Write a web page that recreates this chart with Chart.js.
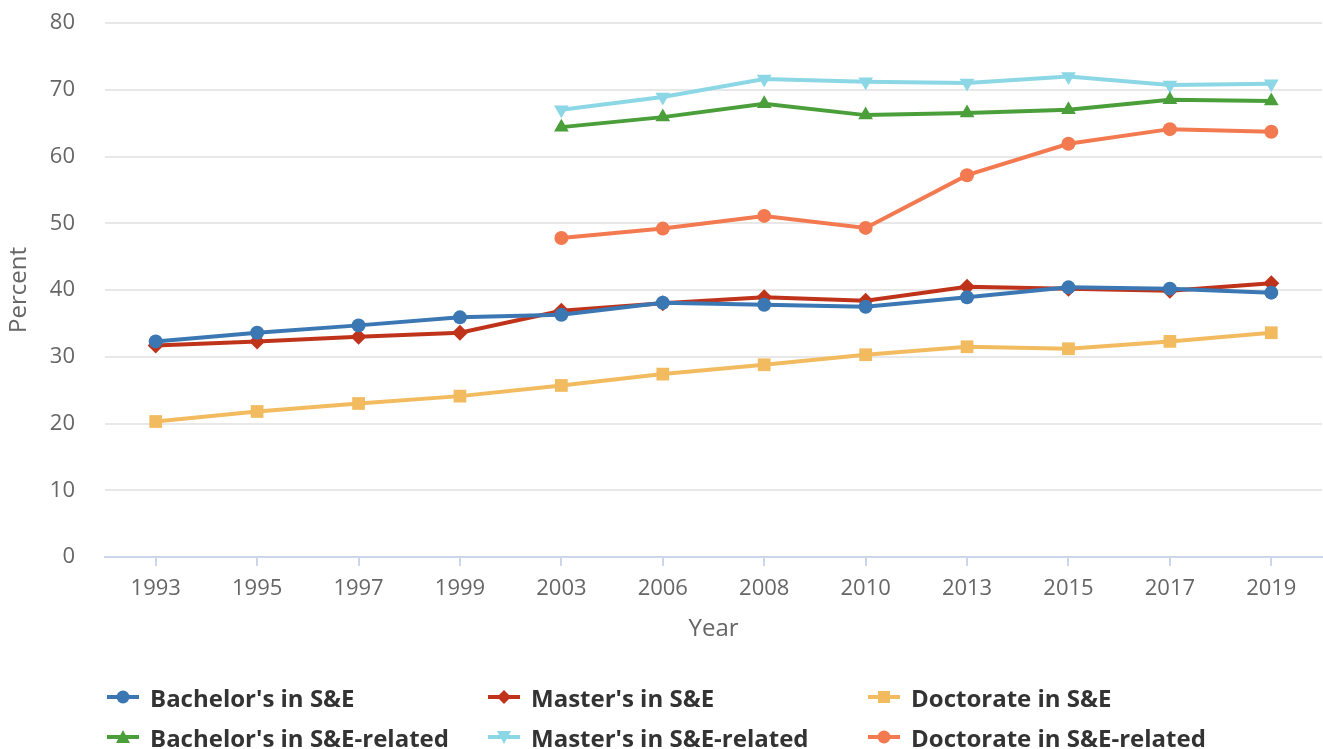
<!DOCTYPE html>
<html>
<head>
<meta charset="utf-8">
<script src="https://cdn.jsdelivr.net/npm/chart.js@4.4.1/dist/chart.umd.min.js"></script>
<style>
  html, body { margin: 0; padding: 0; background: #fff; }
  #wrap { position: relative; width: 1323px; height: 749px; overflow: hidden; }
  #box { position: absolute; left: 0; top: 0; width: 1331px; height: 665px; }
  #legend { position: absolute; left: 0; top: 0; width: 1323px; height: 749px; pointer-events: none; }
  .item { position: absolute; display: flex; align-items: center; height: 30px;
          font-family: "Open Sans", sans-serif; font-weight: 700; font-size: 24px; color: #333; white-space: nowrap; }
  .item svg { margin-right: 11px; }
</style>
</head>
<body>
<div id="wrap">
  <div id="box"><canvas id="chart"></canvas></div>
  <div id="legend"></div>
</div>
<script>
const years = ['1993', '1995', '1997', '1999', '2003', '2006', '2008', '2010', '2013', '2015', '2017', '2019'];

const bachelorSE = [32.3, 33.6, 34.7, 35.9, 36.3, 38.1, 37.8, 37.5, 38.9, 40.4, 40.2, 39.6];
const masterSE = [31.7, 32.3, 33.0, 33.6, 36.9, 38.0, 38.9, 38.4, 40.5, 40.2, 39.9, 41.0];
const doctorateSE = [20.3, 21.8, 23.0, 24.1, 25.7, 27.4, 28.8, 30.3, 31.5, 31.2, 32.3, 33.6];
const bachelorRel = [null, null, null, null, 64.4, 65.9, 67.9, 66.2, 66.5, 67.0, 68.5, 68.3];
const masterRel = [null, null, null, null, 67.0, 68.9, 71.6, 71.2, 71.0, 72.0, 70.7, 70.9];
const doctorateRel = [null, null, null, null, 47.8, 49.2, 51.1, 49.3, 57.2, 61.9, 64.1, 63.7];

const seriesNames = ["Bachelor's in S&E", "Master's in S&E", "Doctorate in S&E",
  "Bachelor's in S&E-related", "Master's in S&E-related", "Doctorate in S&E-related"];
const seriesColors = ['#3a77b3', '#c0331b', '#f2bb5f', '#4b9f3a', '#8cd7e5', '#f37a50'];
const seriesMarkers = ['circle', 'rectRot', 'rect', 'triangle', 'triangle', 'circle'];
const seriesData = [bachelorSE, masterSE, doctorateSE, bachelorRel, masterRel, doctorateRel];

const radius = { circle: 7, rectRot: 8, rect: 9, triangle: 8.5 };

const datasets = seriesNames.map((name, i) => ({
  label: name,
  data: seriesData[i],
  borderColor: seriesColors[i],
  backgroundColor: seriesColors[i],
  pointBackgroundColor: seriesColors[i],
  pointBorderWidth: 0,
  borderWidth: 4,
  pointStyle: seriesMarkers[i],
  pointRotation: i === 4 ? 180 : 0,
  pointRadius: radius[seriesMarkers[i]],
  tension: 0,
  spanGaps: false
}));

const tickFont = { family: 'Open Sans', size: 22 };
const titleFont = { family: 'Open Sans', size: 24 };

new Chart(document.getElementById('chart'), {
  type: 'line',
  data: { labels: years, datasets },
  options: {
    responsive: true,
    maintainAspectRatio: false,
    animation: false,
    events: [],
    layout: { padding: { top: 23, right: 2, left: 0, bottom: 0 } },
    plugins: {
      legend: { display: false },
      tooltip: { enabled: false }
    },
    scales: {
      x: {
        offset: true,
        grid: { offset: false, drawOnChartArea: false, drawTicks: true, tickLength: 9, color: '#ccd6eb', lineWidth: 2 },
        border: { display: true, color: '#ccd6eb', width: 2 },
        ticks: { color: '#666', font: tickFont, padding: 10, maxRotation: 0, autoSkip: false },
        title: { display: true, text: 'Year', color: '#666', font: titleFont, padding: { top: 0, bottom: 21 } },
        afterFit: s => { s.height = 108; }
      },
      y: {
        min: 0,
        max: 80,
        ticks: { stepSize: 10, color: '#666', font: tickFont, padding: 3 },
        grid: { drawTicks: true, tickLength: 27, tickColor: 'rgba(0,0,0,0)', color: '#e8e8e8', lineWidth: 2 },
        border: { display: false },
        title: { display: true, text: 'Percent', color: '#666', font: titleFont, padding: { top: 5, bottom: 0 } },
        afterFit: s => { s.width = 105; }
      }
    }
  }
});

// legend, three columns by two rows
const legendX = [107, 488, 868];
const legendY = [697, 737];

function markerSvg(i) {
  const c = seriesColors[i];
  let m = '';
  if (seriesMarkers[i] === 'circle') m = `<circle cx="16" cy="8" r="6.5" fill="${c}"/>`;
  if (seriesMarkers[i] === 'rectRot') m = `<polygon points="16,1 23,8 16,15 9,8" fill="${c}"/>`;
  if (seriesMarkers[i] === 'rect') m = `<rect x="10" y="2" width="12" height="12" fill="${c}"/>`;
  if (seriesMarkers[i] === 'triangle' && i !== 4) m = `<polygon points="16,1 23,14 9,14" fill="${c}"/>`;
  if (i === 4) m = `<polygon points="9,2 23,2 16,15" fill="${c}"/>`;
  return `<svg width="32" height="16" viewBox="0 0 32 16"><line x1="0" y1="8" x2="32" y2="8" stroke="${c}" stroke-width="4"/>${m}</svg>`;
}

const legend = document.getElementById('legend');
seriesNames.forEach((name, i) => {
  const div = document.createElement('div');
  div.className = 'item';
  div.style.left = legendX[i % 3] + 'px';
  div.style.top = (legendY[Math.floor(i / 3)] - 15) + 'px';
  div.innerHTML = markerSvg(i);
  const span = document.createElement('span');
  span.textContent = name;
  div.appendChild(span);
  legend.appendChild(div);
});
</script>
</body>
</html>
